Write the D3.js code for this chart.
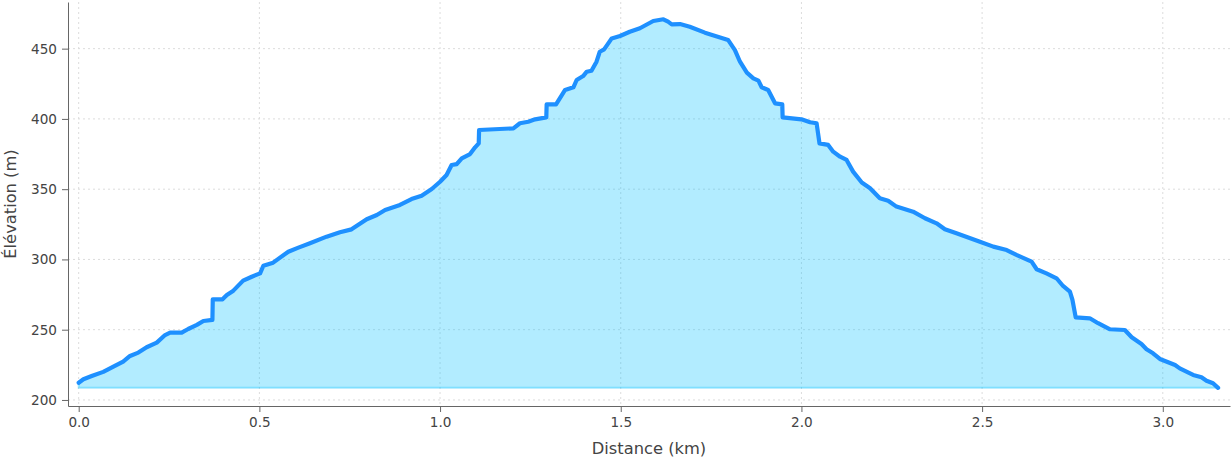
<!DOCTYPE html>
<html>
<head>
<meta charset="utf-8">
<script src="https://cdn.jsdelivr.net/npm/d3@7"></script>
<style>
  body { margin: 0; background: #fff; }
  svg { display: block; font-family: "DejaVu Sans", sans-serif; }
  .grid line { stroke: #dcdcdc; stroke-width: 1; stroke-dasharray: 2, 3; }
  .label { fill: #444; font-size: 16.3px; }
</style>
</head>
<body>
<svg id="profile" width="1232" height="460"></svg>
<script>
// values
var distanceKm = [
  0.000, 0.013, 0.036, 0.068, 0.096, 0.123, 0.142, 0.165, 0.188, 0.216,
  0.239, 0.253, 0.285, 0.303, 0.327, 0.345, 0.370, 0.371, 0.398, 0.410,
  0.428, 0.455, 0.479, 0.502, 0.511, 0.538, 0.580, 0.608, 0.640, 0.686,
  0.723, 0.755, 0.797, 0.825, 0.848, 0.889, 0.921, 0.949, 0.977, 1.000,
  1.018, 1.032, 1.046, 1.060, 1.083, 1.097, 1.107, 1.108, 1.203, 1.221,
  1.244, 1.263, 1.294, 1.295, 1.321, 1.346, 1.369, 1.378, 1.396, 1.406,
  1.419, 1.433, 1.442, 1.454, 1.475, 1.498, 1.525, 1.553, 1.590, 1.618,
  1.631, 1.641, 1.664, 1.691, 1.733, 1.775, 1.797, 1.816, 1.830, 1.849,
  1.867, 1.881, 1.890, 1.908, 1.927, 1.947, 1.948, 2.000, 2.024, 2.042,
  2.050, 2.074, 2.088, 2.107, 2.125, 2.143, 2.167, 2.190, 2.217, 2.240,
  2.263, 2.309, 2.342, 2.374, 2.397, 2.429, 2.494, 2.531, 2.568, 2.595,
  2.637, 2.651, 2.678, 2.706, 2.724, 2.743, 2.750, 2.759, 2.798, 2.821,
  2.854, 2.895, 2.914, 2.941, 2.955, 2.973, 2.992, 3.034, 3.047, 3.084,
  3.107, 3.121, 3.139, 3.153
];
var elevationM = [
  212.3, 214.7, 217.0, 220.0, 223.7, 227.3, 231.3, 233.7, 237.5, 240.8,
  246.2, 247.9, 247.9, 250.5, 253.4, 256.2, 257.0, 271.6, 271.6, 274.7,
  277.8, 284.9, 287.7, 290.1, 295.5, 297.7, 305.5, 308.4, 311.5, 316.2,
  319.3, 321.4, 328.6, 331.6, 335.2, 338.8, 343.0, 345.4, 350.1, 355.3,
  360.1, 367.2, 367.8, 372.0, 375.0, 379.8, 382.6, 392.1, 393.3, 396.9,
  398.0, 399.7, 401.1, 410.4, 410.4, 420.6, 422.5, 427.7, 430.5, 433.6,
  434.3, 440.7, 447.8, 449.5, 457.3, 459.0, 462.0, 464.5, 469.7, 470.9,
  469.2, 467.3, 467.5, 465.6, 461.4, 458.0, 456.2, 449.0, 440.7, 432.9,
  428.8, 427.2, 422.5, 420.6, 411.1, 410.4, 401.1, 399.7, 397.6, 396.9,
  382.6, 381.5, 376.7, 373.1, 370.8, 362.5, 354.7, 350.6, 343.5, 341.8,
  337.6, 334.0, 329.3, 325.7, 321.5, 318.6, 312.6, 309.1, 306.7, 303.2,
  298.4, 293.0, 290.1, 286.6, 281.1, 277.1, 271.2, 258.8, 258.1, 254.6,
  250.3, 249.8, 244.6, 239.8, 236.1, 233.2, 229.2, 224.9, 222.5, 217.8,
  216.2, 213.7, 211.9, 208.6
];
var xTicks = [0, 0.5, 1.0, 1.5, 2.0, 2.5, 3.0];
var yTicks = [200, 250, 300, 350, 400, 450];

function elevationProfile() {
    var svg = d3.select("#profile"),
        margin = { left: 68, right: 1230, top: 2, bottom: 406 };

    var x = d3.scaleLinear().domain([-0.0296, 3.186]).range([margin.left, margin.right]),
        y = d3.scaleLinear().domain([195.7, 483.2]).range([margin.bottom, margin.top]);

    var data = distanceKm.map((d, i) => ({ km: d, m: elevationM[i] }));
    var base = d3.min(elevationM);

    // dotted grid
    var grid = svg.append("g").attr("class", "grid");
    grid.selectAll(".gx").data(xTicks).enter().append("line")
        .attr("x1", d => x(d)).attr("x2", d => x(d))
        .attr("y1", margin.top).attr("y2", margin.bottom);
    grid.selectAll(".gy").data(yTicks).enter().append("line")
        .attr("x1", margin.left).attr("x2", margin.right)
        .attr("y1", d => y(d)).attr("y2", d => y(d));

    var area = d3.area()
        .x(d => x(d.km))
        .y0(y(base))
        .y1(d => y(d.m));

    var line = d3.line()
        .x(d => x(d.km))
        .y(d => y(d.m));

    svg.append("path")
        .datum(data)
        .attr("d", area)
        .attr("fill", "#00bfff")
        .attr("fill-opacity", 0.3)
        .attr("stroke", "#00bfff")
        .attr("stroke-opacity", 0.35)
        .attr("stroke-width", 2);

    svg.append("path")
        .datum(data)
        .attr("d", line)
        .attr("fill", "none")
        .attr("stroke", "#1e90ff")
        .attr("stroke-width", 4.2)
        .attr("stroke-linejoin", "round")
        .attr("stroke-linecap", "round");

    // axes
    var xAxis = svg.append("g")
        .attr("transform", "translate(0," + margin.bottom + ")")
        .call(d3.axisBottom(x).tickValues(xTicks).tickFormat(d3.format(".1f"))
            .tickSizeOuter(0).tickSizeInner(6).tickPadding(5));

    var yAxis = svg.append("g")
        .attr("transform", "translate(" + margin.left + ",0)")
        .call(d3.axisLeft(y).tickValues(yTicks).tickFormat(d3.format("d"))
            .tickSizeOuter(0).tickSizeInner(6).tickPadding(5));

    [xAxis, yAxis].forEach(g => {
        g.attr("font-family", "DejaVu Sans, sans-serif").attr("font-size", 13.6);
        g.selectAll("path, line").attr("stroke", "#666");
        g.selectAll("text").attr("fill", "#444");
    });

    svg.append("text")
        .attr("class", "label")
        .attr("x", (margin.left + margin.right) / 2)
        .attr("y", 454)
        .attr("text-anchor", "middle")
        .text("Distance (km)");

    svg.append("text")
        .attr("class", "label")
        .attr("transform", "translate(16," + (margin.bottom + margin.top) / 2 + ") rotate(-90)")
        .attr("text-anchor", "middle")
        .text("Élévation (m)");
}

elevationProfile();
</script>
</body>
</html>
